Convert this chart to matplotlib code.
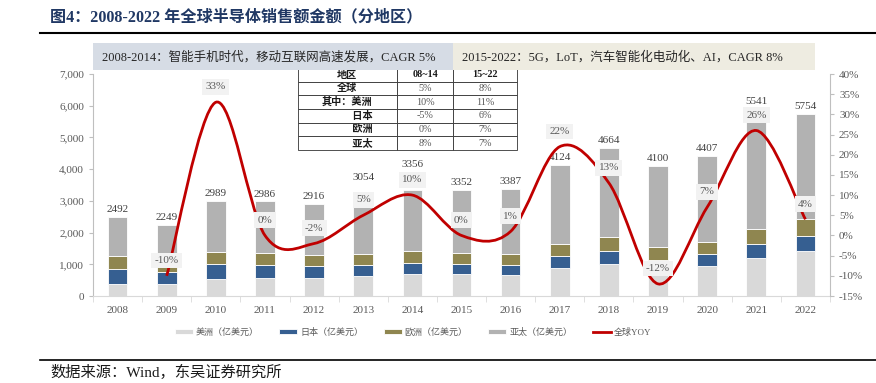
import numpy as np
import matplotlib.pyplot as plt
from matplotlib.path import Path
from matplotlib.patches import PathPatch, Rectangle
from matplotlib.lines import Line2D

plt.rcParams['font.family'] = ['Liberation Serif', 'Noto Sans CJK SC']

# 数据（亿美元）
years = [str(y) for y in range(2008, 2023)]
america = [380, 385, 542, 560, 560, 615, 688, 688, 657, 889, 1016, 1098, 952, 1205, 1404]
japan = [485, 378, 461, 410, 380, 357, 347, 327, 315, 367, 397, 42, 367, 429, 482]
europe = [385, 298, 379, 390, 347, 347, 379, 336, 337, 391, 442, 400, 378, 473, 537]
asia = [1242, 1188, 1607, 1626, 1629, 1735, 1942, 2001, 2078, 2477, 2809, 2560, 2710, 3434, 3331]
totals = [2492, 2249, 2989, 2986, 2916, 3054, 3356, 3352, 3387, 4124, 4664, 4100, 4407, 5541, 5754]
yoy = [None, -10, 33, 0, -2, 5, 10, 0, 1, 22, 13, -12, 7, 26, 4]

# 表格
table_cols = ['地区', '08~14', '15~22']
table_rows = ['全球', '其中：美洲', '\u3000\u3000\u3000日本', '\u3000\u3000\u3000欧洲', '\u3000\u3000\u3000亚太']
cagr_0814 = ['5%', '10%', '-5%', '0%', '8%']
cagr_1522 = ['8%', '11%', '6%', '7%', '7%']

W, H = 876, 383
fig = plt.figure(figsize=(W / 100, H / 100), dpi=100)


def fx(px):
    return px / W


def fy(py):
    return 1 - py / H


ax = fig.add_axes([fx(93), fy(296), (830 - 93) / W, (296 - 74) / H])
x = np.arange(len(years))
bw = 0.4
c_am, c_jp, c_eu, c_ap = '#d9d9d9', '#365f91', '#8f8650', '#b2b2b2'
b1 = ax.bar(x, america, bw, color=c_am, edgecolor='white', linewidth=0.6)
bottom = np.array(america)
b2 = ax.bar(x, japan, bw, bottom=bottom, color=c_jp, edgecolor='white', linewidth=0.6)
bottom = bottom + np.array(japan)
b3 = ax.bar(x, europe, bw, bottom=bottom, color=c_eu, edgecolor='white', linewidth=0.6)
bottom = bottom + np.array(europe)
b4 = ax.bar(x, asia, bw, bottom=bottom, color=c_ap, edgecolor='white', linewidth=0.6)
tot_labels = ax.bar_label(b4, labels=[str(t) for t in totals], padding=2, fontsize=8, color='#404040')
# 避开增速标签，上移部分数值标签
for i, lift in [(5, 10), (6, 13), (13, 8)]:
    tot_labels[i].xyann = (0, 2 + lift)

ax.set_xlim(-0.5, len(years) - 0.5)
ax.set_ylim(0, 7000)
ax.set_yticks(range(0, 7001, 1000))
ax.set_yticklabels([f'{v:,}' for v in range(0, 7001, 1000)])
ax.set_xticks(x)
ax.set_xticklabels(years)
ax.set_xticks(np.arange(-0.5, len(years), 1), minor=True)
ax.tick_params(axis='x', which='major', length=0, pad=7, labelsize=8, labelcolor='#595959')
ax.tick_params(axis='x', which='minor', length=4, color='#d9d9d9')
ax.tick_params(axis='y', length=3, color='#bfbfbf', labelsize=8, labelcolor='#595959')
for s in ['top', 'right']:
    ax.spines[s].set_visible(False)
ax.spines['left'].set_color('#bfbfbf')
ax.spines['bottom'].set_color('#d9d9d9')

# 全球YOY 平滑曲线
ax2 = ax.twinx()
ax2.set_ylim(-0.15, 0.40)
rt = np.arange(-0.15, 0.401, 0.05)
ax2.set_yticks(rt)
ax2.set_yticklabels([f'{round(v * 100)}%' for v in rt])
ax2.tick_params(axis='y', length=3, color='#bfbfbf', labelsize=8, labelcolor='#595959')
for s in ['top', 'left', 'bottom']:
    ax2.spines[s].set_visible(False)
ax2.spines['right'].set_color('#bfbfbf')

xs = np.array([i for i, v in enumerate(yoy) if v is not None], dtype=float)
ys = np.array([v for v in yoy if v is not None]) / 100
pts = np.column_stack([xs, ys])
verts = [pts[0]]
codes = [Path.MOVETO]
for i in range(len(pts) - 1):
    p0 = pts[i - 1] if i > 0 else pts[i]
    p3 = pts[i + 2] if i + 2 < len(pts) else pts[i + 1]
    verts += [pts[i] + (pts[i + 1] - p0) / 6, pts[i + 1] - (p3 - pts[i]) / 6, pts[i + 1]]
    codes += [Path.CURVE4] * 3
ax2.add_patch(PathPatch(Path(verts, codes), fill=False, edgecolor='#c00000', linewidth=2.0, zorder=3))

for xi, v in zip(xs, ys):
    ax2.annotate(f'{round(v * 100)}%', (xi, v), xytext=(0, 11), textcoords='offset points',
                 ha='center', va='center', fontsize=8, color='#595959', zorder=4,
                 bbox=dict(boxstyle='square,pad=0.3', fc='#f2f2f2', ec='none'))

# 表格
tx0, tx1 = (298 - 93) / 737, (517 - 93) / 737
ty1, ty0 = (296 - 68) / 222, (296 - 150) / 222
tw = tx1 - tx0
cell_text = [[r, a, b] for r, a, b in zip(table_rows, cagr_0814, cagr_1522)]
tb = ax.table(cellText=cell_text, colLabels=table_cols, colWidths=[0.45 * tw, 0.26 * tw, 0.29 * tw],
              bbox=[tx0, ty0, tw, ty1 - ty0], cellLoc='center', zorder=6)
tb.auto_set_font_size(False)
tb.set_fontsize(7.3)
for (r, c), cell in tb.get_celld().items():
    cell.set_edgecolor('#333333')
    cell.set_linewidth(0.6)
    cell.set_facecolor('white')
    t = cell.get_text()
    if r == 0 or c == 0:
        t.set_fontweight('bold')
        t.set_color('#1a1a1a')
    else:
        t.set_color('#595959')

# 顶部说明框
fig.patches.append(Rectangle((fx(93), fy(70)), (453 - 93) / W, 27 / H, transform=fig.transFigure,
                             facecolor='#d6dce5', edgecolor='none'))
fig.patches.append(Rectangle((fx(453), fy(70)), (815 - 453) / W, 27 / H, transform=fig.transFigure,
                             facecolor='#eeece1', edgecolor='none'))
fig.text(fx(102), fy(57), '2008-2014：智能手机时代，移动互联网高速发展，CAGR 5%', fontsize=9,
         color='#262626', va='center')
fig.text(fx(462), fy(57), '2015-2022：5G，LoT，汽车智能化电动化、AI，CAGR 8%', fontsize=9,
         color='#262626', va='center')

# 标题与来源
fig.text(fx(50), fy(17), '图4：2008-2022 年全球半导体销售额金额（分地区）', fontsize=11.6,
         fontweight='bold', color='#203864', va='center')
fig.add_artist(Line2D([fx(40), 1], [fy(32.5), fy(32.5)], color='black', linewidth=1.5))
fig.add_artist(Line2D([fx(40), 1], [fy(360), fy(360)], color='black', linewidth=1.2))
fig.text(fx(50), fy(372), '数据来源：Wind，东吴证券研究所', fontsize=11, color='#1a1a1a', va='center')

# 图例
handles = [b1, b2, b3, b4, Line2D([], [], color='#c00000', linewidth=2.0)]
labels = ['美洲（亿美元）', '日本（亿美元）', '欧洲（亿美元）', '亚太（亿美元）', '全球YOY']
fig.legend(handles, labels, loc='center', bbox_to_anchor=(fx(413), fy(332)), ncol=5, frameon=False,
           fontsize=6.5, labelcolor='#595959', handlelength=2.0, handleheight=0.5,
           handletextpad=0.3, columnspacing=2.3)

fig.savefig('out.png', dpi=100)
